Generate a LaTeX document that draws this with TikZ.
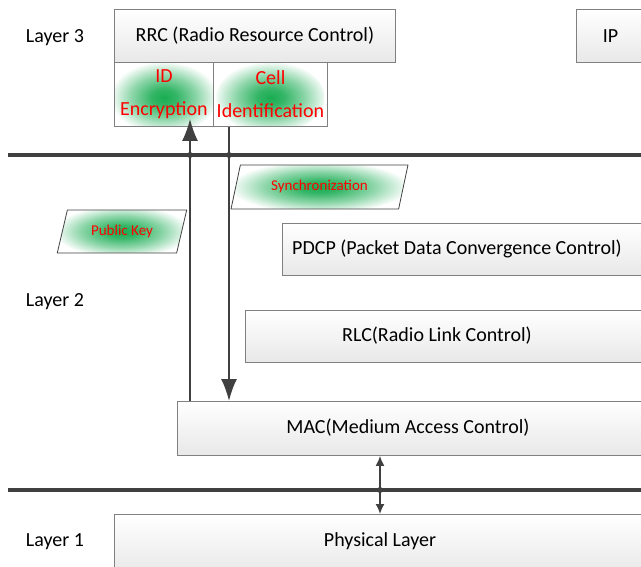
\documentclass[tikz,border=0pt]{standalone}
\usepackage{fontspec}
\setmainfont{Carlito}
\usetikzlibrary{shapes.geometric, arrows.meta}

\definecolor{glowgreen}{RGB}{25,172,82}
\definecolor{linegray}{RGB}{64,64,64}
\definecolor{boxgray}{RGB}{128,128,128}
\pgfdeclareradialshading{glow}{\pgfpoint{0bp}{0bp}}{color(0bp)=(glowgreen); color(6bp)=(glowgreen!88!white); color(15bp)=(glowgreen!50!white); color(25bp)=(white); color(50bp)=(white)}

\begin{document}
\begin{tikzpicture}[x=1pt, y=-1pt,
    layerbox/.style={rectangle, draw=boxgray, line width=0.9pt, top color=white, bottom color=black!9, inner sep=0pt, anchor=north west, font=\fontsize{20}{24}\selectfont},
    funcbox/.style={rectangle, draw=boxgray, line width=0.9pt, fill=white, inner sep=0pt, anchor=north west, align=center, text=red, font=\fontsize{20}{24}\selectfont,
        path picture={\shade[shading=glow] ([yshift=-3pt]path picture bounding box.center) ellipse [x radius=54pt, y radius=36pt];}},
    keybox/.style={trapezium, trapezium left angle=66, trapezium right angle=114, trapezium stretches=true, draw=linegray, line width=0.8pt, fill=white, inner sep=0pt, text=red, font=\fontsize{15}{18}\selectfont,
        path picture={\shade[shading=glow] (path picture bounding box.center) ellipse [x radius=#1, y radius=26pt];}},
    layertext/.style={font=\fontsize{20}{24}\selectfont},
    sep/.style={draw=linegray, line width=3.5pt},
    flow/.style={draw=linegray, line width=1.8pt, -{Latex[length=22pt, width=16pt]}},
    dot/.style={circle, fill=linegray, inner sep=0pt, minimum size=6pt}]

    \useasboundingbox (0,0) rectangle (641,567);
    \clip (0,0) rectangle (641,567);

    % layer separators
    \draw[sep] (8,155) -- (641,155);
    \draw[sep] (8,490) -- (641,490);

    % layer 3
    \node[layertext] (l3) at (55,38) {Layer 3};
    \node[layerbox, minimum width=281pt, minimum height=53pt] (rrc) at (114,9) {RRC (Radio Resource Control)};
    \node[layerbox, minimum width=68pt, minimum height=53pt] (ip) at (576,9) {IP};
    \node[funcbox, minimum width=99pt, minimum height=64pt] (idenc) at (114,62) {ID\\[9pt]Encryption};
    \node[funcbox, minimum width=114pt, minimum height=64pt] (cellid) at (213,62) {Cell\\[9pt]Identification};

    % layer 2
    \node[layertext] (l2) at (55,302) {Layer 2};
    \node[keybox=90pt, minimum width=177pt, minimum height=44pt] (sync) at (319.5,187) {Synchronization};
    \node[keybox=68pt, minimum width=130pt, minimum height=43pt] (pubkey) at (122,231.5) {Public Key};
    \node[layerbox, minimum width=400pt, minimum height=52pt] (pdcp) at (282,223) {};
    \node[layertext] (pdcptxt) at (457,249) {PDCP (Packet Data Convergence Control)};
    \node[layerbox, minimum width=420pt, minimum height=52pt] (rlc) at (245,310) {};
    \node[layertext] (rlctxt) at (437,336) {RLC(Radio Link Control)};
    \node[layerbox, minimum width=480pt, minimum height=54pt] (mac) at (177,401) {};
    \node[layertext] (mactxt) at (408,428) {MAC(Medium Access Control)};

    % layer 1
    \node[layertext] (l1) at (55,542) {Layer 1};
    \node[layerbox, minimum width=560pt, minimum height=60pt] (phy) at (114,514) {};
    \node[layertext] (phytxt) at (380,541) {Physical Layer};

    % connectors
    \coordinate (upx) at (190,0);
    \coordinate (downx) at (229,0);
    \coordinate (phyx) at (380,0);
    \draw[flow] (upx |- mac.north) -- ([yshift=8pt]upx |- idenc.south);
    \draw[flow] (downx |- cellid.south) -- (downx |- mac.north);
    \draw[draw=linegray, line width=1.6pt, {Latex[length=10pt, width=9pt]}-{Latex[length=10pt, width=9pt]}] (phyx |- mac.south) -- (phyx |- phy.north);

    % junctions
    \node[dot] (j1) at (190,155) {};
    \node[dot] (j2) at (229,155) {};
    \node[dot] (j3) at (380,490) {};
\end{tikzpicture}
\end{document}
